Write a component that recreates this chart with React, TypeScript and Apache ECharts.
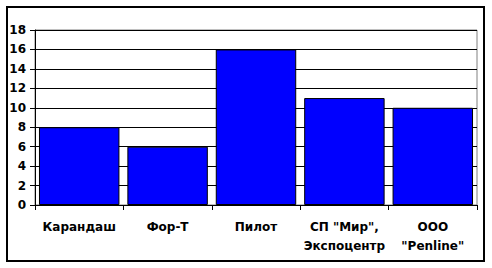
import React, { useEffect, useRef } from "react";
import * as echarts from "echarts";

const categories = ["Карандаш", "Фор-Т", "Пилот", "СП \"Мир\",\nЭкспоцентр", "ООО\n\"Penline\""];
const values = [8, 6, 16, 11, 10];

export default function App() {
  const ref = useRef<HTMLDivElement>(null);
  useEffect(() => {
    const chart = echarts.init(ref.current!, null, { renderer: "svg" });
    const font = "'DejaVu Sans', Verdana, sans-serif";
    chart.setOption({
      animation: false,
      backgroundColor: "#ffffff",
      grid: {
        left: 35,
        top: 30,
        right: 15,
        bottom: 63,
        show: true,
        borderColor: "#808080",
        borderWidth: 1,
        backgroundColor: "transparent",
      },
      graphic: [
        {
          type: "rect",
          shape: { x: 7, y: 7, width: 477, height: 254 },
          style: { fill: "none", stroke: "#000", lineWidth: 2 },
          silent: true,
        },
      ],
      xAxis: {
        type: "category",
        data: categories,
        boundaryGap: true,
        axisLine: { lineStyle: { color: "#000", width: 1 } },
        axisTick: { show: true, length: 5, alignWithLabel: false, lineStyle: { color: "#000" } },
        axisLabel: {
          interval: 0,
          margin: 12,
          color: "#000",
          fontFamily: font,
          fontWeight: "bold",
          fontSize: 12,
          lineHeight: 19,
        },
        splitLine: { show: false },
      },
      yAxis: {
        type: "value",
        min: 0,
        max: 18,
        interval: 2,
        axisLine: { show: true, lineStyle: { color: "#000", width: 1 } },
        axisTick: { show: true, length: 5, lineStyle: { color: "#000" } },
        axisLabel: {
          margin: 9,
          color: "#000",
          fontFamily: font,
          fontWeight: "bold",
          fontSize: 12,
        },
        splitLine: { show: true, lineStyle: { color: "#000", width: 1 } },
      },
      series: [
        {
          type: "bar",
          data: values,
          barCategoryGap: "9%",
          itemStyle: { color: "#0000ff", borderColor: "#000", borderWidth: 1 },
        },
      ],
    });
    return () => chart.dispose();
  }, []);
  return (
    <div
      ref={ref}
      style={{ position: "absolute", left: 0, top: 0, width: 492, height: 268, background: "#fff" }}
    />
  );
}
